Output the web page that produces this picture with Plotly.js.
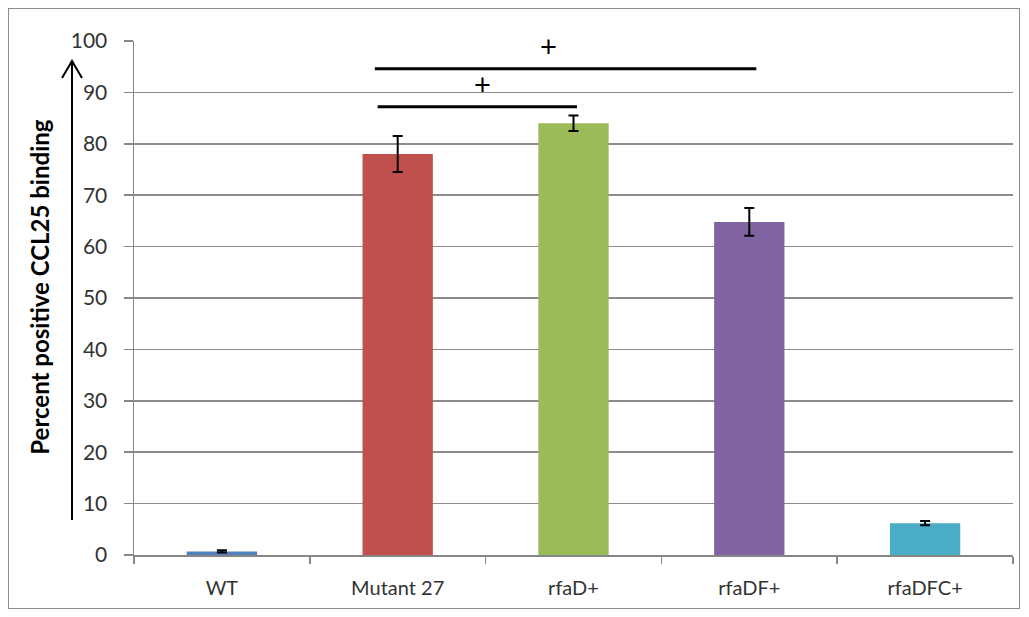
<!DOCTYPE html>
<html>
<head>
<meta charset="utf-8">
<script src="https://cdn.plot.ly/plotly-3.0.1.min.js"></script>
<style>
  html, body { margin: 0; padding: 0; background: #ffffff; }
  #wrap { position: relative; width: 1029px; height: 617px; }
  #chart { position: absolute; left: 0; top: 0; width: 1029px; height: 617px; }
  #frame { position: absolute; left: 8px; top: 8px; width: 1010px; height: 599px; border: 1.5px solid #8c8c8c; pointer-events: none; }
</style>
</head>
<body>
<div id="wrap">
  <div id="chart"></div>
  <div id="frame"></div>
</div>
<script>
// Data
const categories = ["WT", "Mutant 27", "rfaD+", "rfaDF+", "rfaDFC+"];
const values = [0.7, 78.0, 84.0, 64.8, 6.2];
const errors = [0.2, 3.5, 1.5, 2.7, 0.4];
const barColors = ["#4F81BD", "#C0504D", "#9BBB59", "#8064A2", "#4BACC6"];
const yTicks = [0, 10, 20, 30, 40, 50, 60, 70, 80, 90, 100];
const yTitle = "Percent positive CCL25 binding";
// significance brackets: [x start, x end, y level] and marker positions
const sigLines = [[0.87, 3.04, 94.6], [0.886, 2.02, 87.2]];
const sigMarks = [[1.86, 98.8], [1.48, 91.4]];
const sigLabel = "+";

const font = "Lato, 'Open Sans', 'Liberation Sans', sans-serif";

const M = { l: 134, r: 16, t: 41, b: 62 };
const W = 1029, H = 617;
const pw = W - M.l - M.r, ph = H - M.t - M.b;
// pixel -> paper helpers for the decorative arrow
const px = v => (v - M.l) / pw;
const py = v => (H - M.b - v) / ph;

const trace = {
  type: "bar",
  x: categories,
  y: values,
  marker: { color: barColors, line: { width: 0 } },
  width: 0.4,
  error_y: { type: "data", array: errors, visible: true, color: "#000000", thickness: 2, width: 5 },
  hoverinfo: "x+y"
};

const shapes = sigLines.map(s => ({
  type: "line", xref: "x", yref: "y",
  x0: s[0], x1: s[1], y0: s[2], y1: s[2],
  line: { color: "#000000", width: 3 }
}));

// decorative arrow next to the y-axis title
shapes.push({
  type: "line", xref: "paper", yref: "paper",
  x0: px(72), x1: px(72), y0: py(520), y1: py(62),
  line: { color: "#000000", width: 2 }
});
shapes.push({
  type: "path", xref: "paper", yref: "paper",
  path: `M ${px(62)} ${py(78)} L ${px(72)} ${py(61)} L ${px(82)} ${py(78)}`,
  line: { color: "#000000", width: 2 }
});

const annotations = sigMarks.map(m => ({
  x: m[0], y: m[1], xref: "x", yref: "y",
  text: sigLabel, showarrow: false,
  font: { family: "Liberation Sans, sans-serif", size: 29, color: "#000000" }
}));

// y-axis title drawn as rotated text
annotations.push({
  xref: "paper", yref: "paper",
  x: px(40), y: 0.52, xanchor: "center", yanchor: "middle",
  textangle: -90, showarrow: false,
  text: yTitle,
  font: { family: font, size: 24, color: "#000000", weight: "bold" }
});

const layout = {
  width: W, height: H,
  margin: M,
  paper_bgcolor: "#ffffff",
  plot_bgcolor: "#ffffff",
  showlegend: false,
  bargap: 0.6,
  font: { family: font, size: 16, color: "#222222" },
  xaxis: {
    type: "category",
    showgrid: false,
    showline: true, linecolor: "#868686", linewidth: 1.5,
    ticks: "outside", tickson: "boundaries", ticklen: 7, tickcolor: "#868686", tickwidth: 1.5,
    tickfont: { family: font, size: 20, color: "#333333" },
    ticklabelstandoff: 14,
    zeroline: false
  },
  yaxis: {
    range: [0, 100],
    tickvals: yTicks,
    showgrid: true, gridcolor: "#8c8c8c", gridwidth: 1.5,
    showline: true, linecolor: "#868686", linewidth: 1.5,
    ticks: "outside", ticklen: 9, tickcolor: "#868686", tickwidth: 1.5,
    tickfont: { family: font, size: 21, color: "#333333" },
    ticklabelstandoff: 12,
    zeroline: false
  },
  shapes: shapes,
  annotations: annotations
};

Plotly.newPlot("chart", [trace], layout, { displayModeBar: false, staticPlot: true });
</script>
</body>
</html>
